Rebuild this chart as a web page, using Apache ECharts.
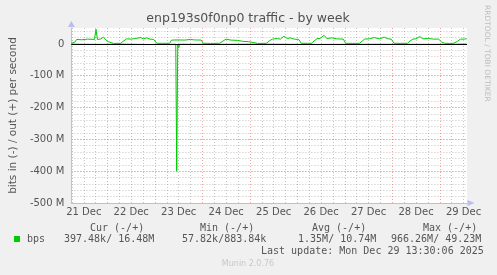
<!DOCTYPE html>
<html>
<head>
<meta charset="utf-8">
<script src="https://cdn.jsdelivr.net/npm/echarts@6/dist/echarts.min.js"></script>
<style>
html,body{margin:0;padding:0;background:#f0f0f0;}
#c{width:497px;height:275px;}
</style>
</head>
<body>
<div id="c"></div>
<script>
// Hours since 21 Dec 00:00, values in Mbit/s
const outHours = [
  5.75, 7.4, 8.4, 11, 14, 17.4, 18.2, 18.9, 20.4, 21.9, 22.9, 24,
  24.9, 27, 30.7,
  31.9, 33.7, 36, 38, 40.9, 42, 43.9, 45.5, 47.4,
  48.9, 52, 55.4,
  56.4, 60, 63, 65.9, 68, 71.4,
  72.4, 76, 80.7,
  82.4, 83.4, 83.9, 86.4, 87.4, 89.9, 92.4, 95.4,
  96.4, 100, 104.4,
  105.9, 107.4, 109.9, 111.4, 113.2, 114.9, 116.4, 118.4, 120.7,
  121.9, 125, 127.4,
  128.4, 129.9, 131.4, 133.5, 134.9, 137.4, 139.9, 143.2,
  144.4, 148, 151.5,
  152.4, 153.9, 156.4, 158.9, 161.4, 163.9, 165.9, 167.4,
  168.9, 172, 175.7,
  176.9, 178.4, 179.9, 181.9, 183.4, 186.4, 188.9, 191.4, 192.9,
  194.4, 197, 199,
  200.9, 202.4, 203.4, 204.4, 205.6
];
const outValues = [
  2, 5, 14, 13, 15, 14, 46, 14, 15, 21, 15, 8,
  2, 1.5, 2,
  8, 16, 15, 17, 20, 16, 19, 15, 14,
  2, 1.8, 2,
  12, 12.5, 12, 14, 12.5, 12,
  2, 1.5, 2,
  9, 11, 15, 12, 15.5, 11, 8, 7,
  2, 1.5, 2,
  10, 15, 17, 15, 24, 17, 19, 15, 14,
  2, 1.8, 2,
  9, 16.5, 17, 27, 17, 19, 16, 15,
  2, 1.5, 2,
  8, 15, 16, 20, 16, 21, 16, 15,
  2, 1.8, 2,
  9, 15, 16, 23, 16, 17, 15, 15, 6,
  2, 1.5, 2,
  8, 15, 19, 15, 16.48
];
const inHours  = [5.75, 20, 30, 45, 58.5, 59, 59.5, 60, 60.5, 80, 100, 130, 160, 190, 205.6];
const inValues = [-0.8, -1.5, -0.6, -1.8, -1, -400, -1, -12, -1, -1.2, -0.7, -1.6, -1.1, -1.3, -0.4];

const dayLabels = ['21 Dec','22 Dec','23 Dec','24 Dec','25 Dec','26 Dec','27 Dec','28 Dec','29 Dec'];
const dayLabelHours = [12, 36, 60, 84, 108, 132, 156, 180, 204];
const yTickValues = [-500, -400, -300, -200, -100, 0];

const legendHeaders = ['Cur (-/+)', 'Min (-/+)', 'Avg (-/+)', 'Max (-/+)'];
const legendValues = ['397.48k/ 16.48M', ' 57.82k/883.84k', '  1.35M/ 10.74M', '966.26M/ 49.23M'];

const xMin = 5.75, xMax = 205.75;

const outData = outHours.map((h, i) => [h, outValues[i]]);
const inData = inHours.map((h, i) => [h, inValues[i]]);

const gridMajorV = [];
const gridMinorV = [];
for (let h = 6; h <= 204; h += 6) {
  if (h % 24 === 0) gridMajorV.push({xAxis: h}); else gridMinorV.push({xAxis: h});
}

const minorColor = 'rgba(140,140,140,0.5)';
const majorColor = 'rgba(224,80,80,0.5)';
const axisBlue = '#b9bdf2';
const sans = 'DejaVu Sans';
const mono = 'DejaVu Sans Mono';
const txt = '#555';

const chart = echarts.init(document.getElementById('c'), null, {renderer: 'canvas'});

const headerX = [90, 200, 312, 423];
const valueX = [64, 176, 286, 391];
const graphics = [
  {type:'text', x:248, y:19, style:{text:'enp193s0f0np0 traffic - by week', font:'12.5px "'+sans+'"', fill:'#505050', textAlign:'center', textVerticalAlign:'middle'}},
  {type:'text', x:487, y:5, rotation:-Math.PI/2, style:{text:'RRDTOOL / TOBI OETIKER', font:'7.5px "'+sans+'"', fill:'#bdbdbd', textAlign:'left', textVerticalAlign:'middle'}},
  {type:'rect', shape:{x:14, y:236, width:6, height:6}, style:{fill:'#00cc00'}},
  {type:'text', x:27, y:239, style:{text:'bps', font:'10px "'+mono+'"', fill:txt, textAlign:'left', textVerticalAlign:'middle'}},
  {type:'text', x:261, y:251, style:{text:'Last update: Mon Dec 29 13:30:06 2025', font:'10px "'+mono+'"', fill:txt, textAlign:'left', textVerticalAlign:'middle'}},
  {type:'text', x:248, y:264, style:{text:'Munin 2.0.76', font:'8px "'+sans+'"', fill:'#c8c8c8', textAlign:'center', textVerticalAlign:'middle'}}
];
legendHeaders.forEach((t, i) => graphics.push({type:'text', x:headerX[i], y:228, style:{text:t, font:'10px "'+mono+'"', fill:txt, textAlign:'left', textVerticalAlign:'middle'}}));
legendValues.forEach((t, i) => graphics.push({type:'text', x:valueX[i], y:239, style:{text:t, font:'10px "'+mono+'"', fill:txt, textAlign:'left', textVerticalAlign:'middle'}}));

chart.setOption({
  animation: false,
  backgroundColor: '#f0f0f0',
  textStyle: {fontFamily: sans},
  grid: {left:67, right:30, top:28, bottom:72, show:true, backgroundColor:'#ffffff', borderWidth:0},
  xAxis: {
    type:'value', min:xMin, max:xMax,
    axisLine:{show:true, onZero:false, lineStyle:{color:axisBlue, width:1}, symbol:['none','triangle'], symbolSize:[6,7], symbolOffset:[0,4]},
    axisTick:{show:false},
    splitLine:{show:false},
    axisLabel:{customValues: dayLabelHours, formatter:(v)=>dayLabels[dayLabelHours.indexOf(v)] || '', color:txt, fontSize:10, fontFamily:sans, margin:4}
  },
  yAxis: [
    {
      type:'value', min:-500, max:50, interval:20,
      axisLine:{show:false}, axisTick:{show:false}, axisLabel:{show:false},
      splitLine:{show:true, showMinLine:false, showMaxLine:false, lineStyle:{color:minorColor, type:[1,2], width:1}}
    },
    {
      type:'value', min:-500, max:50, interval:100, position:'left',
      axisLine:{show:true, lineStyle:{color:axisBlue, width:1}, symbol:['none','triangle'], symbolSize:[7,6], symbolOffset:[0,4]},
      axisTick:{show:false},
      splitLine:{show:true, showMinLine:false, showMaxLine:false, lineStyle:{color:majorColor, type:[1,2], width:1}},
      axisLabel:{customValues: yTickValues, formatter:(v)=> v === 0 ? '0' : (v + ' M'), color:txt, fontSize:10, fontFamily:sans, margin:7},
      name:'bits in (-) / out (+) per second', nameLocation:'middle', nameGap:50,
      nameTextStyle:{color:txt, fontSize:10.5, fontFamily:sans}
    }
  ],
  series: [
    {
      type:'line', name:'grid', data:[], yAxisIndex:1, silent:true, z:1,
      markLine:{silent:true, z:1, symbol:['none','none'], label:{show:false}, animation:false,
        lineStyle:{color:minorColor, type:[1,2], width:1}, data: gridMinorV}
    },
    {
      type:'line', name:'gridMajor', data:[], yAxisIndex:1, silent:true, z:1,
      markLine:{silent:true, z:1, symbol:['none','none'], label:{show:false}, animation:false,
        lineStyle:{color:majorColor, type:[1,2], width:1}, data: gridMajorV}
    },
    {
      type:'line', name:'bps in', data: inData, yAxisIndex:1, showSymbol:false, silent:true, z:3,
      lineStyle:{color:'#00cc00', width:1}
    },
    {
      type:'line', name:'bps out', data: outData, yAxisIndex:1, showSymbol:false, silent:true, z:3,
      lineStyle:{color:'#00cc00', width:1},
      markLine:{silent:true, z:10, symbol:['none','none'], label:{show:false}, animation:false,
        lineStyle:{color:'#000000', type:'solid', width:1}, data:[{yAxis:0}]}
    }
  ],
  graphic: graphics
});
</script>
</body>
</html>
